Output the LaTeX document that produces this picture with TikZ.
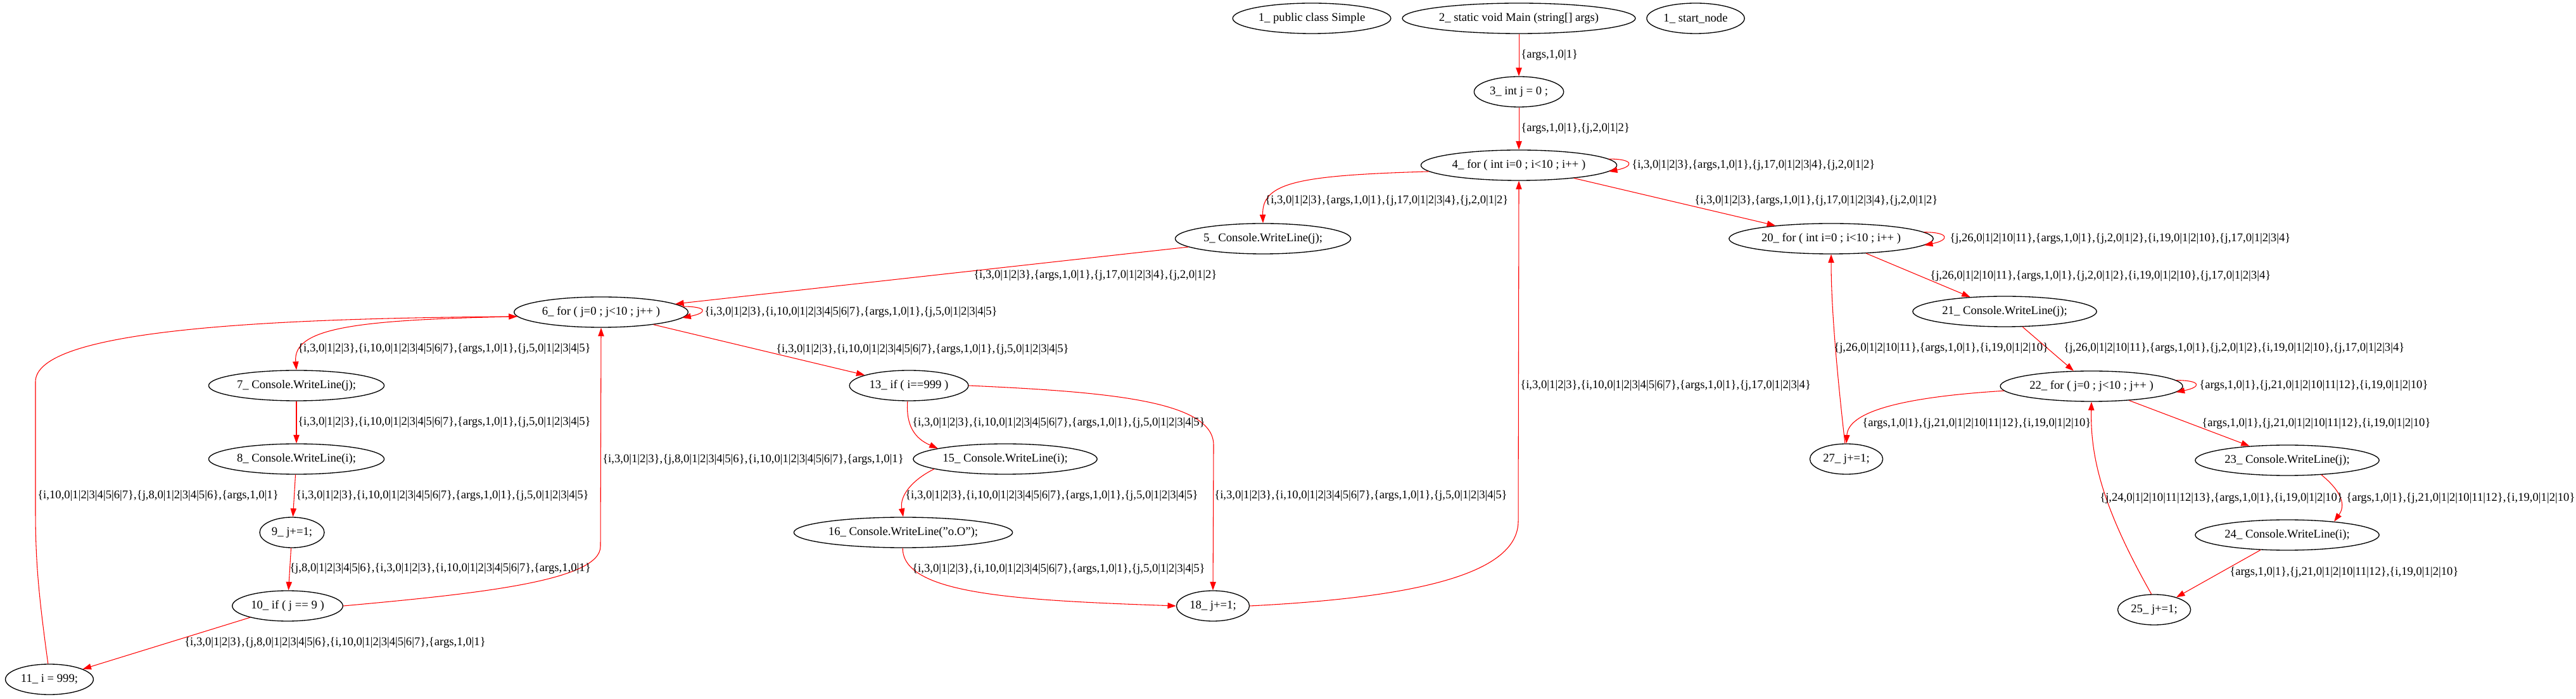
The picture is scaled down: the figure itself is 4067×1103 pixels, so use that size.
\documentclass[tikz,border=0pt]{standalone}
\usepackage{fontspec}
\setmainfont{Liberation Serif}
\usetikzlibrary{arrows.meta,shapes.geometric}

\begin{document}
\begin{tikzpicture}[x=0.75pt, y=0.75pt,
    stmt/.style={draw=borderColour, ellipse, line width=1pt, inner xsep=3pt, inner ysep=2pt,
        minimum height=36pt, minimum width=54pt, font=\fontsize{14}{16}\selectfont},
    flowEdge/.style={draw=edgeColour, line width=0.8pt, -{Triangle[length=10pt,width=7pt]}},
    edgeLabel/.style={anchor=west, inner sep=0pt, font=\fontsize{14}{16}\selectfont}]
    \definecolor{borderColour}{HTML}{000000}
    \definecolor{edgeColour}{HTML}{FF0000}

    \def\vArgs{\{args,1,0|1\}}
    \def\vIthree{\{i,3,0|1|2|3\}}
    \def\vIten{\{i,10,0|1|2|3|4|5|6|7\}}
    \def\vInineteen{\{i,19,0|1|2|10\}}
    \def\vJtwo{\{j,2,0|1|2\}}
    \def\vJfive{\{j,5,0|1|2|3|4|5\}}
    \def\vJeight{\{j,8,0|1|2|3|4|5|6\}}
    \def\vJseventeen{\{j,17,0|1|2|3|4\}}
    \def\vJtwentyone{\{j,21,0|1|2|10|11|12\}}
    \def\vJtwentyfour{\{j,24,0|1|2|10|11|12|13\}}
    \def\vJtwentysix{\{j,26,0|1|2|10|11\}}

    \useasboundingbox (0,0) rectangle (4067,1103);

    % Statements
    \node[stmt] (n1) at (2071,1074) {1\_ public class Simple};
    \node[stmt] (n2) at (2398,1074) {2\_ static void Main (string[] args)};
    \node[stmt] (nStart) at (2677,1074) {1\_ start\_node};
    \node[stmt] (n3) at (2398,958) {3\_ int j = 0 ;};
    \node[stmt] (n4) at (2398,842) {4\_ for ( int i=0 ; i<10 ; i++ )};
    \node[stmt] (n5) at (1994,726) {5\_ Console.WriteLine(j);};
    \node[stmt] (n20) at (2891,726) {20\_ for ( int i=0 ; i<10 ; i++ )};
    \node[stmt] (n6) at (949,610) {6\_ for ( j=0 ; j<10 ; j++ )};
    \node[stmt] (n21) at (3165,611) {21\_ Console.WriteLine(j);};
    \node[stmt] (n7) at (468,494) {7\_ Console.WriteLine(j);};
    \node[stmt] (n13) at (1435,494) {13\_ if ( i==999 )};
    \node[stmt] (n22) at (3302,493) {22\_ for ( j=0 ; j<10 ; j++ )};
    \node[stmt] (n8) at (468,378) {8\_ Console.WriteLine(i);};
    \node[stmt] (n15) at (1587,378) {15\_ Console.WriteLine(i);};
    \node[stmt] (n27) at (2915,378) {27\_ j+=1;};
    \node[stmt] (n23) at (3611,376) {23\_ Console.WriteLine(j);};
    \node[stmt] (n9) at (461,262) {9\_ j+=1;};
    \node[stmt] (n16) at (1426,262) {16\_ Console.WriteLine("o.O");};
    \node[stmt] (n24) at (3611,258) {24\_ Console.WriteLine(i);};
    \node[stmt] (n10) at (454,146) {10\_ if ( j == 9 )};
    \node[stmt] (n18) at (1915,146) {18\_ j+=1;};
    \node[stmt] (n25) at (3401,140) {25\_ j+=1;};
    \node[stmt] (n11) at (78,30) {11\_ i = 999;};

    % Flow edges
    \draw[flowEdge] (n2) -- (n3);
    \draw[flowEdge] (n3) -- (n4);
    \draw[flowEdge] (n4.4) .. controls +(40,0) and +(40,8) .. (n4.-4);
    \draw[flowEdge] (n4.184) .. controls (2050,826) and (1992,815) .. (n5.north);
    \draw[flowEdge] (n4) -- (n20);
    \draw[flowEdge] (n5) -- (n6);
    \draw[flowEdge] (n6.4) .. controls +(40,0) and +(40,8) .. (n6.-4);
    \draw[flowEdge] (n6.183) .. controls (560,598) and (462,585) .. (n7.north);
    \draw[flowEdge] (n6) -- (n13);
    \draw[flowEdge] (n7) -- (n8);
    \draw[flowEdge] (n8) -- (n9);
    \draw[flowEdge] (n9) -- (n10);
    \draw[flowEdge] (n10.east) .. controls (750,165) and (948,185) .. (948,240) -- (n6.south);
    \draw[flowEdge] (n10) -- (n11);
    \draw[flowEdge] (n11.95) .. controls (60,170) and (56,220) .. (56,300) -- (56,500)
        .. controls (56,580) and (400,600) .. (n6.183);
    \draw[flowEdge] (n13.265) .. controls (1430,430) and (1445,410) .. (n15.171);
    \draw[flowEdge] (n13.east) .. controls (1750,484) and (1916,470) .. (1916,400) -- (n18.north);
    \draw[flowEdge] (n15.188) .. controls (1440,345) and (1420,320) .. (n16.north);
    \draw[flowEdge] (n16.268) .. controls (1425,165) and (1600,155) .. (n18.west);
    \draw[flowEdge] (n18.east) .. controls (2250,160) and (2397,200) .. (2397,280) -- (n4.south);
    \draw[flowEdge] (n20.4) .. controls +(40,0) and +(40,8) .. (n20.-4);
    \draw[flowEdge] (n20) -- (n21);
    \draw[flowEdge] (n21) -- (n22);
    \draw[flowEdge] (n22.4) .. controls +(40,0) and +(40,8) .. (n22.-4);
    \draw[flowEdge] (n22.183) .. controls (2990,475) and (2918,450) .. (n27.north);
    \draw[flowEdge] (n22) -- (n23);
    \draw[flowEdge] (n23.-23) .. controls (3705,320) and (3700,300) .. (n24.16);
    \draw[flowEdge] (n24) -- (n25);
    \draw[flowEdge] (n25.100) .. controls (3320,300) and (3300,380) .. (n22.south);
    \draw[flowEdge] (n27.95) .. controls (2895,560) and (2891,640) .. (n20.south);

    % Edge labels
    \node[edgeLabel] (l2to3) at (2401,1016) {\vArgs};
    \node[edgeLabel] (l3to4) at (2401,900) {\vArgs,\vJtwo};
    \node[edgeLabel] (l4to4) at (2576,842) {\vIthree,\vArgs,\vJseventeen,\vJtwo};
    \node[edgeLabel] (l4to5) at (1997,786) {\vIthree,\vArgs,\vJseventeen,\vJtwo};
    \node[edgeLabel] (l4to20) at (2675,786) {\vIthree,\vArgs,\vJseventeen,\vJtwo};
    \node[edgeLabel] (l5to6) at (1537,668) {\vIthree,\vArgs,\vJseventeen,\vJtwo};
    \node[edgeLabel] (l6to6) at (1112,610) {\vIthree,\vIten,\vArgs,\vJfive};
    \node[edgeLabel] (l6to7) at (470,552) {\vIthree,\vIten,\vArgs,\vJfive};
    \node[edgeLabel] (l6to13) at (1225,551) {\vIthree,\vIten,\vArgs,\vJfive};
    \node[edgeLabel] (l7to8) at (470,436) {\vIthree,\vIten,\vArgs,\vJfive};
    \node[edgeLabel] (l8to9) at (467,320) {\vIthree,\vIten,\vArgs,\vJfive};
    \node[edgeLabel] (l9to10) at (457,205) {\vJeight,\vIthree,\vIten,\vArgs};
    \node[edgeLabel] (l10to6) at (951,377) {\vIthree,\vJeight,\vIten,\vArgs};
    \node[edgeLabel] (l10to11) at (291,88) {\vIthree,\vJeight,\vIten,\vArgs};
    \node[edgeLabel] (l11to6) at (59,320) {\vIten,\vJeight,\vArgs};
    \node[edgeLabel] (l13to15) at (1440,435) {\vIthree,\vIten,\vArgs,\vJfive};
    \node[edgeLabel] (l13to18) at (1917,320) {\vIthree,\vIten,\vArgs,\vJfive};
    \node[edgeLabel] (l15to16) at (1429,320) {\vIthree,\vIten,\vArgs,\vJfive};
    \node[edgeLabel] (l16to18) at (1440,204) {\vIthree,\vIten,\vArgs,\vJfive};
    \node[edgeLabel] (l18to4) at (2400,494) {\vIthree,\vIten,\vArgs,\vJseventeen};
    \node[edgeLabel] (l20to20) at (3078,726) {\vJtwentysix,\vArgs,\vJtwo,\vInineteen,\vJseventeen};
    \node[edgeLabel] (l20to21) at (3047,667) {\vJtwentysix,\vArgs,\vJtwo,\vInineteen,\vJseventeen};
    \node[edgeLabel] (l21to22) at (3258,553) {\vJtwentysix,\vArgs,\vJtwo,\vInineteen,\vJseventeen};
    \node[edgeLabel] (l27to20) at (2895,553) {\vJtwentysix,\vArgs,\vInineteen};
    \node[edgeLabel] (l22to22) at (3472,494) {\vArgs,\vJtwentyone,\vInineteen};
    \node[edgeLabel] (l22to27) at (2940,434) {\vArgs,\vJtwentyone,\vInineteen};
    \node[edgeLabel] (l22to23) at (3476,434) {\vArgs,\vJtwentyone,\vInineteen};
    \node[edgeLabel] (l23to24) at (3704,316) {\vArgs,\vJtwentyone,\vInineteen};
    \node[edgeLabel] (l24to25) at (3520,199) {\vArgs,\vJtwentyone,\vInineteen};
    \node[edgeLabel] (l25to22) at (3315,316) {\vJtwentyfour,\vArgs,\vInineteen};

\end{tikzpicture}
\end{document}
